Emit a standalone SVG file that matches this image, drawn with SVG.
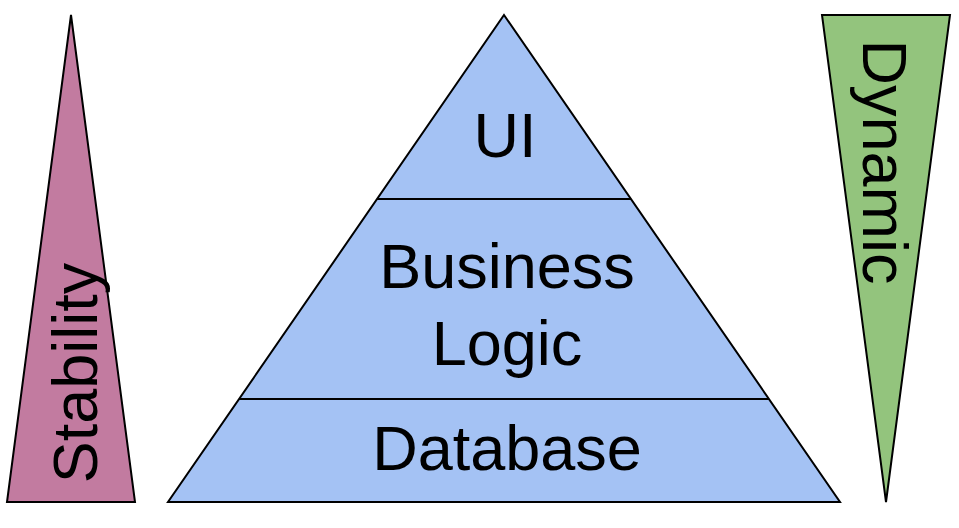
<svg xmlns="http://www.w3.org/2000/svg" width="959" height="528" viewBox="0 0 959 528">
<style>
.s{stroke:#000;stroke-width:2;stroke-linejoin:miter}
.t{font-family:"Liberation Sans",Arial,sans-serif;font-size:63px;fill:#000;text-anchor:middle}
</style>
<rect width="959" height="528" fill="#fff"/>
<g id="stability">
<polygon class="s" points="71,15 135,502 7,502" fill="#c27ba0"/>
<text class="t" transform="translate(97,373) rotate(-90)">Stability</text>
</g>
<g id="dynamic">
<polygon class="s" points="822,15 950,15 886,502" fill="#93c47d"/>
<text class="t" transform="translate(863,162) rotate(90)">Dynamic</text>
</g>
<g id="pyramid">
<polygon class="s" points="504,15 840,502 168,502" fill="#a4c2f4"/>
</g>
<g id="connectors">
<line class="s" x1="377" y1="199" x2="631" y2="199"/>
<line class="s" x1="239" y1="399" x2="769" y2="399"/>
</g>
<g id="ui"><text class="t" x="505" y="157">UI</text></g>
<g id="business"><text class="t" x="507" y="288">Business</text><text class="t" x="507" y="365">Logic</text></g>
<g id="database"><text class="t" x="507" y="470">Database</text></g>
</svg>
